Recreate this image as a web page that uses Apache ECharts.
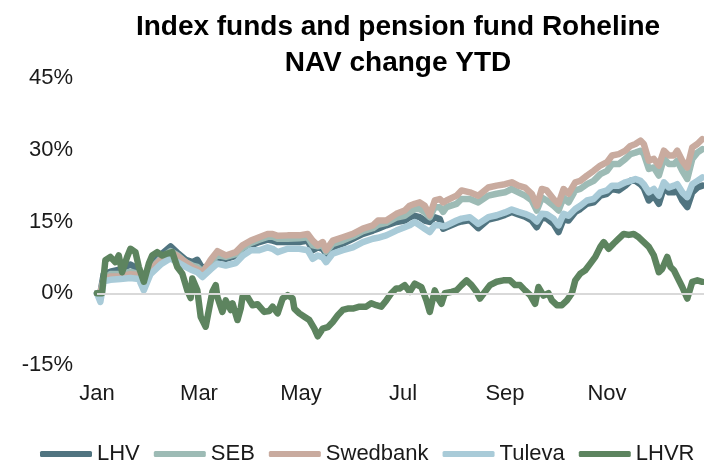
<!DOCTYPE html>
<html>
<head>
<meta charset="utf-8">
<script src="https://cdn.jsdelivr.net/npm/echarts@6/dist/echarts.min.js"></script>
<style>
  html, body { margin: 0; padding: 0; background: #fff; }
  #main { width: 704px; height: 465px; }
</style>
</head>
<body>
<div id="main"></div>
<script>
// x values are days since 1 Jan, y values are NAV change in %
var monthNames = ['Jan', 'Mar', 'May', 'Jul', 'Sep', 'Nov'];
var yTicks = [-15, 0, 15, 30, 45];

// index funds at the same days
var fundDays = [0, 2, 4, 8, 14, 20, 25, 28, 32, 38, 44, 48, 53, 57, 60, 63, 68, 72, 77, 83, 87, 92, 97, 102, 105, 108, 114, 121, 126, 129, 132, 135, 137, 141, 147, 153, 159, 165, 168, 173, 179, 184, 187, 190, 193, 196, 199, 202, 205, 207, 209, 215, 218, 223, 228, 234, 239, 244, 248, 252, 256, 260, 263, 266, 269, 273, 276, 279, 282, 286, 289, 293, 297, 301, 305, 308, 312, 316, 319, 322, 325, 327, 330, 333, 336, 339, 342, 345, 347, 350, 353, 356, 359, 362];
var lhv = [0, 0, 4.0, 4.5, 5.0, 6.0, 5.0, 2.5, 5.5, 8.0, 9.8, 8.5, 7.0, 6.5, 7.0, 5.2, 6.0, 7.5, 7.2, 7.8, 9.0, 10.0, 10.7, 11.2, 11.0, 10.7, 10.7, 10.7, 11.0, 9.0, 9.6, 9.3, 8.3, 9.6, 10.4, 11.4, 12.4, 13.1, 13.5, 14.2, 14.9, 15.2, 15.9, 16.2, 15.9, 15.2, 14.9, 15.9, 15.5, 13.5, 13.8, 14.7, 15.0, 15.3, 13.6, 15.4, 15.8, 16.4, 17.0, 16.5, 16.0, 15.2, 13.8, 15.8, 15.6, 14.5, 12.8, 15.5, 15.2, 17.0, 17.6, 18.7, 19.0, 20.4, 20.8, 21.8, 21.5, 22.5, 23.5, 23.5, 22.8, 22.0, 19.4, 20.4, 18.7, 22.1, 21.1, 21.1, 21.5, 19.4, 18.0, 21.1, 22.1, 22.5];
var seb = [0, 0, 3.0, 4.0, 4.0, 4.5, 4.0, 2.0, 5.0, 7.3, 8.8, 8.0, 6.5, 5.8, 5.5, 4.5, 6.5, 8.0, 7.6, 8.2, 9.5, 10.5, 11.2, 11.8, 11.8, 11.4, 11.4, 11.5, 11.7, 10.0, 9.8, 10.0, 8.7, 10.3, 11.0, 11.9, 13.0, 13.6, 14.3, 14.7, 15.8, 16.2, 16.9, 17.6, 17.6, 16.9, 15.9, 18.0, 18.0, 17.0, 18.0, 18.7, 19.7, 19.7, 19.0, 20.4, 20.8, 21.1, 21.8, 21.1, 20.4, 19.4, 17.3, 20.0, 19.4, 18.3, 17.3, 20.0, 19.0, 21.5, 21.8, 22.8, 23.5, 24.9, 25.6, 27.0, 27.0, 28.1, 29.1, 29.4, 29.8, 29.1, 26.0, 26.3, 24.6, 28.1, 27.0, 27.0, 27.7, 25.6, 23.9, 28.1, 29.4, 30.1];
var swedbank = [0, 0, 2.8, 3.5, 3.5, 4.0, 3.8, 2.0, 5.0, 7.0, 8.5, 7.8, 6.5, 5.5, 5.0, 4.2, 7.0, 8.8, 7.9, 8.6, 10.0, 11.0, 11.7, 12.4, 12.4, 12.0, 12.1, 12.1, 12.4, 11.0, 10.0, 10.7, 9.0, 11.0, 11.7, 12.4, 13.5, 14.2, 15.2, 15.2, 16.6, 17.3, 18.3, 18.7, 19.0, 18.3, 16.3, 19.4, 19.7, 19.0, 19.4, 20.4, 21.5, 21.1, 20.4, 22.1, 22.5, 22.8, 23.2, 22.5, 22.1, 20.8, 18.3, 21.8, 21.5, 19.7, 18.7, 21.8, 20.8, 23.2, 23.5, 24.6, 25.6, 26.7, 27.4, 28.8, 29.1, 29.8, 30.8, 31.2, 31.9, 31.2, 27.7, 28.1, 26.7, 29.8, 28.8, 28.8, 29.8, 27.7, 26.3, 30.5, 31.2, 32.2];
var tuleva = [0, -1.8, 2.5, 2.8, 3.0, 3.2, 3.0, 0.6, 4.0, 6.0, 7.3, 6.5, 5.5, 4.8, 4.4, 3.4, 5.0, 6.2, 5.8, 6.3, 7.8, 9.0, 9.0, 9.6, 9.3, 8.6, 9.3, 9.3, 9.0, 7.2, 7.9, 7.5, 6.5, 8.3, 9.0, 9.6, 10.7, 11.4, 11.6, 12.1, 13.1, 13.8, 14.2, 14.9, 14.2, 13.5, 12.8, 14.2, 14.2, 14.0, 14.2, 15.2, 15.6, 15.9, 14.5, 15.9, 16.3, 16.9, 17.5, 17.0, 16.6, 16.0, 15.0, 16.6, 16.5, 15.6, 14.2, 16.6, 16.2, 17.6, 18.3, 19.4, 19.7, 21.1, 21.5, 22.5, 22.5, 23.2, 23.5, 23.9, 23.5, 22.8, 21.1, 21.8, 20.4, 23.2, 22.1, 22.5, 22.8, 21.1, 20.1, 22.8, 23.5, 24.2];

// pension fund Roheline
var lhvrDays = [0, 3, 5, 8, 11, 13, 15, 18, 20, 23, 25, 28, 31, 33, 36, 39, 42, 45, 48, 51, 54, 56, 57, 60, 62, 65, 66, 69, 71, 72, 75, 77, 80, 81, 84, 86, 87, 90, 93, 96, 100, 103, 105, 108, 111, 114, 117, 118, 121, 124, 127, 130, 132, 135, 138, 141, 144, 147, 150, 153, 157, 161, 164, 167, 170, 173, 176, 179, 181, 184, 187, 190, 194, 197, 199, 202, 204, 206, 208, 212, 215, 218, 221, 224, 227, 229, 232, 235, 239, 243, 247, 250, 253, 256, 259, 262, 264, 267, 270, 272, 275, 278, 281, 284, 286, 289, 292, 295, 298, 301, 303, 306, 309, 312, 315, 318, 321, 324, 327, 330, 333, 336, 338, 341, 343, 345, 347, 350, 353, 356, 359, 362];
var lhvr = [0, 0, 6.9, 7.6, 6.5, 7.9, 4.4, 7.6, 9.3, 8.6, 5.5, 2.4, 6.2, 7.9, 8.6, 7.9, 8.3, 8.6, 5.5, 4.1, 0.6, -1.0, 3.1, 0.6, -4.9, -7.0, -7.0, 0.3, 1.7, -0.8, -3.9, -1.5, -3.5, -2.1, -5.6, -3.1, -0.8, -0.8, -2.5, -2.3, -3.9, -3.7, -2.8, -4.2, -1.1, -0.4, -1.1, -3.2, -4.2, -4.9, -5.6, -7.4, -9.0, -7.4, -7.1, -6.0, -4.6, -3.5, -3.2, -3.2, -2.8, -2.8, -2.1, -2.5, -2.8, -1.5, 0, 1.0, 1.0, 1.7, 0.3, 2.0, 1.3, -1.5, -3.9, 0.6, -1.1, -2.2, 0, 0.3, 0.6, 1.7, 2.7, 1.7, 0.3, -1.1, 0.3, 1.7, 2.4, 2.7, 2.7, 1.7, 1.7, 0.6, -0.4, -2.2, 1.3, -0.5, 0, -1.5, -2.5, -2.5, -1.5, 0, 2.7, 4.1, 4.8, 6.2, 7.6, 9.7, 10.7, 9.3, 10.4, 11.4, 12.4, 12.2, 12.4, 11.7, 10.7, 9.7, 7.9, 4.4, 5.1, 7.6, 5.5, 4.8, 3.4, 1.3, -1.1, 2.4, 2.7, 2.4];

function pairs(xs, ys) {
    return xs.map(function (x, i) { return [x, ys[i]]; });
}

var font = '"Liberation Sans", Arial, sans-serif';

function lineSeries(name, color, xs, ys, w) {
    return {
        name: name,
        type: 'line',
        data: pairs(xs, ys),
        showSymbol: false,
        symbol: 'none',
        color: color,
        lineStyle: { width: w, color: color, join: 'round', cap: 'round' },
        emphasis: { disabled: true },
        animation: false
    };
}

var myChart = echarts.init(document.getElementById('main'));

var series = [
    lineSeries('LHV', '#507480', fundDays, lhv, 6.5),
    lineSeries('SEB', '#9dbbb5', fundDays, seb, 6.5),
    lineSeries('Swedbank', '#c9ab9f', fundDays, swedbank, 6.5),
    lineSeries('Tuleva', '#a9cbd8', fundDays, tuleva, 6.5),
    lineSeries('LHVR', '#5d845f', lhvrDays, lhvr, 6.5)
];
// grey zero line under everything
series[0].markLine = {
    silent: true,
    symbol: 'none',
    label: { show: false },
    lineStyle: { color: '#d9d9d9', width: 2, type: 'solid' },
    data: [{ yAxis: 0 }]
};
series[0].z = 1;

var option = {
    backgroundColor: '#fff',
    title: {
        text: 'Index funds and pension fund Roheline\nNAV change YTD',
        left: 393,
        top: 4,
        textAlign: 'center',
        textStyle: { fontFamily: font, fontSize: 28, fontWeight: 'bold', color: '#000', lineHeight: 36 }
    },
    legend: {
        data: ['LHV', 'SEB', 'Swedbank', 'Tuleva', 'LHVR'],
        left: 35,
        top: 438,
        width: 669,
        icon: 'roundRect',
        itemWidth: 52,
        itemHeight: 6,
        itemGap: 14,
        textStyle: { fontFamily: font, fontSize: 22, color: '#1a1a1a' }
    },
    grid: { left: 97, right: 0, top: 78, bottom: 100, containLabel: false },
    xAxis: {
        type: 'value',
        min: 0,
        max: 363,
        interval: 61,
        axisLine: { show: false },
        axisTick: { show: false },
        splitLine: { show: false },
        axisLabel: {
            margin: 18,
            fontFamily: font,
            fontSize: 22,
            color: '#1a1a1a',
            showMaxLabel: false,
            formatter: function (v) { return monthNames[Math.round(v / 61)] || ''; }
        }
    },
    yAxis: {
        type: 'value',
        min: yTicks[0],
        max: yTicks[yTicks.length - 1],
        interval: 15,
        axisLine: { show: false },
        axisTick: { show: false },
        splitLine: { show: false },
        axisLabel: {
            margin: 24,
            fontFamily: font,
            fontSize: 22,
            color: '#1a1a1a',
            formatter: function (v) { return v + '%'; }
        }
    },
    series: series
};
myChart.setOption(option);
</script>
</body>
</html>
